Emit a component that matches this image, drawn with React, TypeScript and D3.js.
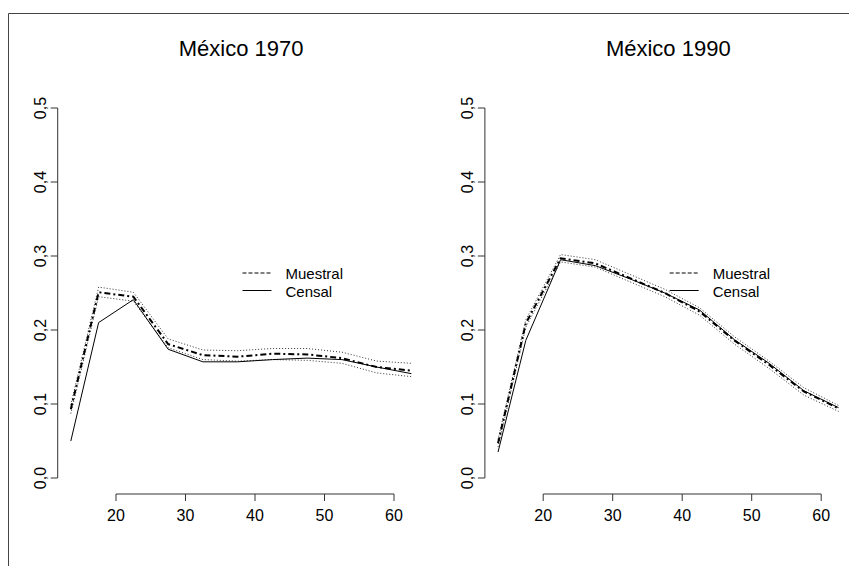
import React from "react";
import * as d3 from "d3";

const ages = [13.5, 17.5, 22.5, 27.5, 32.5, 37.5, 42.5, 47.5, 52.5, 57.5, 62.5];
const xTicks = [20, 30, 40, 50, 60];
const yTicks = [0, 0.1, 0.2, 0.3, 0.4, 0.5];
const yTickLabels = ["0,0", "0,1", "0,2", "0,3", "0,4", "0,5"];
const legendLabels = ["Muestral", "Censal"];

// México 1970
const censal1970 = [0.05, 0.21, 0.241, 0.174, 0.157, 0.157, 0.16, 0.162, 0.16, 0.15, 0.141];
const muestral1970 = [0.093, 0.251, 0.245, 0.181, 0.166, 0.164, 0.168, 0.167, 0.162, 0.15, 0.145];
const upper1970 = [0.099, 0.258, 0.251, 0.188, 0.173, 0.172, 0.175, 0.175, 0.17, 0.158, 0.155];
const lower1970 = [0.087, 0.245, 0.239, 0.176, 0.16, 0.158, 0.16, 0.159, 0.155, 0.142, 0.137];

// México 1990
const censal1990 = [0.035, 0.186, 0.295, 0.287, 0.269, 0.25, 0.227, 0.187, 0.155, 0.118, 0.095];
const muestral1990 = [0.047, 0.209, 0.297, 0.29, 0.27, 0.25, 0.225, 0.186, 0.153, 0.117, 0.094];
const upper1990 = [0.052, 0.214, 0.302, 0.295, 0.275, 0.255, 0.23, 0.191, 0.158, 0.122, 0.098];
const lower1990 = [0.042, 0.204, 0.292, 0.285, 0.265, 0.245, 0.22, 0.181, 0.148, 0.112, 0.09];

const panels = [
  { title: "México 1970", censal: censal1970, muestral: muestral1970, upper: upper1970, lower: lower1970, left: 57.2 },
  { title: "México 1990", censal: censal1990, muestral: muestral1990, upper: upper1990, lower: lower1990, left: 484.4 },
];

const FONT = "'Liberation Sans', Arial, Helvetica, sans-serif";
const WIDTH_PLOT = 367.8;
const TOP = 93.2;
const BOTTOM = 492.8;

function Panel({ p }: { p: typeof panels[number] }) {
  const x = d3.scaleLinear().domain([11.54, 64.46]).range([p.left, p.left + WIDTH_PLOT]);
  const y = d3.scaleLinear().domain([-0.02, 0.52]).range([BOTTOM, TOP]);
  const line = d3
    .line<number>()
    .x((_, i) => x(ages[i]))
    .y((d) => y(d));
  const xAxisY = 494;
  const yAxisX = p.left + 0.5;
  const cx = (p.left + p.left + WIDTH_PLOT) / 2;
  const legX = x(38.2);
  return (
    <g>
      <text x={cx} y={56} textAnchor="middle" fontSize={22} fontFamily={FONT} fill="#000">
        {p.title}
      </text>
      {/* x axis */}
      <line x1={x(xTicks[0])} x2={x(xTicks[xTicks.length - 1])} y1={xAxisY} y2={xAxisY} stroke="#333" />
      {xTicks.map((t) => (
        <g key={t}>
          <line x1={x(t)} x2={x(t)} y1={xAxisY} y2={xAxisY + 7} stroke="#333" />
          <text x={x(t)} y={xAxisY + 27} textAnchor="middle" fontSize={16} fontFamily={FONT} fill="#000">
            {t}
          </text>
        </g>
      ))}
      {/* y axis */}
      <line x1={yAxisX} x2={yAxisX} y1={y(yTicks[0])} y2={y(yTicks[yTicks.length - 1])} stroke="#333" />
      {yTicks.map((t, i) => (
        <g key={t}>
          <line x1={yAxisX} x2={yAxisX - 7} y1={y(t)} y2={y(t)} stroke="#333" />
          <text
            transform={`translate(${yAxisX - 12},${y(t)}) rotate(-90)`}
            textAnchor="middle"
            fontSize={16}
            fontFamily={FONT}
            fill="#000"
          >
            {yTickLabels[i]}
          </text>
        </g>
      ))}
      {/* bands */}
      <path d={line(p.upper) ?? ""} fill="none" stroke="#333" strokeWidth={1} strokeDasharray="1,2" />
      <path d={line(p.lower) ?? ""} fill="none" stroke="#333" strokeWidth={1} strokeDasharray="1,2" />
      {/* muestral */}
      <path d={line(p.muestral) ?? ""} fill="none" stroke="#000" strokeWidth={2} strokeDasharray="6,3,2,3" />
      {/* censal */}
      <path d={line(p.censal) ?? ""} fill="none" stroke="#000" strokeWidth={1} />
      {/* legend */}
      <line x1={legX} x2={legX + 29} y1={273} y2={273} stroke="#000" strokeDasharray="4,2" />
      <line x1={legX} x2={legX + 29} y1={290.5} y2={290.5} stroke="#000" />
      <text x={legX + 43} y={278.5} fontSize={15} fontFamily={FONT} fill="#000">
        {legendLabels[0]}
      </text>
      <text x={legX + 43} y={296.5} fontSize={15} fontFamily={FONT} fill="#000">
        {legendLabels[1]}
      </text>
    </g>
  );
}

export default function App() {
  return (
    <svg
      width={849}
      height={566}
      style={{ position: "absolute", left: 0, top: 0, background: "#fff" }}
    >
      <rect x={0} y={0} width={849} height={566} fill="#fff" />
      <line x1={8.5} x2={849} y1={13.5} y2={13.5} stroke="#444" />
      <line x1={8.5} x2={8.5} y1={13.5} y2={566} stroke="#444" />
      {panels.map((p) => (
        <Panel key={p.title} p={p} />
      ))}
    </svg>
  );
}
